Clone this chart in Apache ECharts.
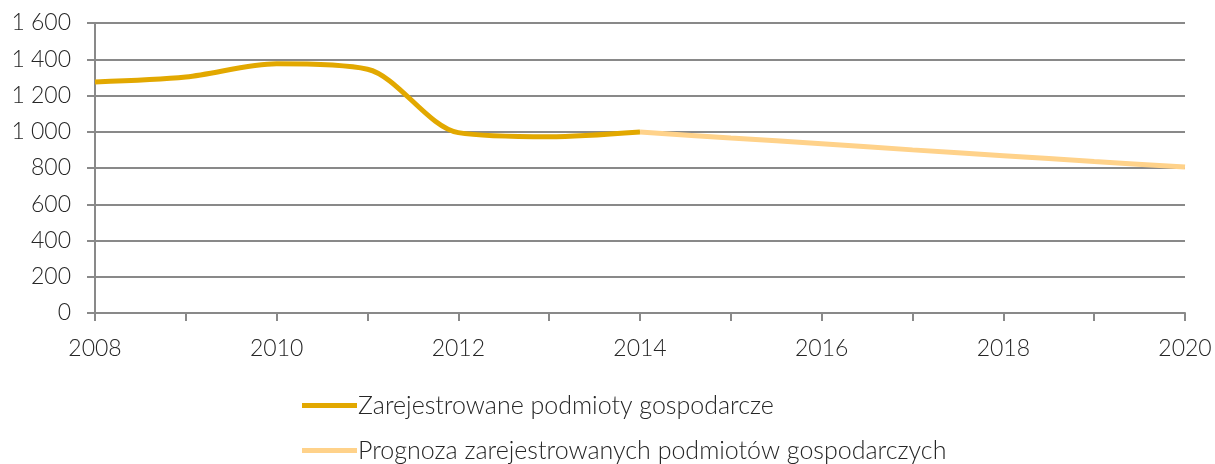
<!DOCTYPE html>
<html>
<head>
<meta charset="utf-8">
<script src="https://cdn.jsdelivr.net/npm/echarts@6/dist/echarts.min.js"></script>
<style>
html, body { margin: 0; padding: 0; background: #fff; }
#chart { width: 1215px; height: 464px; }
</style>
</head>
<body>
<div id="chart"></div>
<script>
// lata
const years = ['2008', '2009', '2010', '2011', '2012', '2013', '2014', '2015', '2016', '2017', '2018', '2019', '2020']
// dane rzeczywiste
const registered = [1275, 1302, 1375, 1345, 995, 972, 998, null, null, null, null, null, null]
// prognoza
const forecast = [null, null, null, null, null, null, 998, 966, 934, 900, 868, 836, 805]

const seriesNames = ['Zarejestrowane podmioty gospodarcze', 'Prognoza zarejestrowanych podmiotów gospodarczych']

const font = 'Lato'
const textColor = '#262626'
const gridColor = '#898989'

const legendBase = {
    orient: 'vertical',
    left: 297,
    itemWidth: 55,
    itemHeight: 5,
    icon: 'rect',
    textStyle: {
        fontFamily: font,
        fontSize: 25,
        fontWeight: 300,
        color: textColor,
        padding: [0, 0, 0, -4]
    }
}

const chart = echarts.init(document.getElementById('chart'))

chart.setOption({
    animation: false,
    grid: {
        left: 95,
        right: 30,
        top: 23,
        bottom: 151
    },
    legend: [
        Object.assign({}, legendBase, { top: 388, data: [seriesNames[0]] }),
        Object.assign({}, legendBase, { top: 433, data: [seriesNames[1]] })
    ],
    xAxis: {
        type: 'category',
        boundaryGap: false,
        data: years,
        axisLine: { lineStyle: { color: gridColor, width: 2 } },
        axisTick: { interval: 0, length: 8, lineStyle: { color: gridColor, width: 2 } },
        axisLabel: {
            interval: 1,
            margin: 24,
            fontFamily: font,
            fontSize: 23,
            fontWeight: 300,
            color: textColor
        }
    },
    yAxis: {
        type: 'value',
        min: 0,
        max: 1600,
        interval: 200,
        axisLine: { show: true, lineStyle: { color: gridColor, width: 2 } },
        axisTick: { show: true, length: 8, lineStyle: { color: gridColor, width: 2 } },
        splitLine: { lineStyle: { color: gridColor, width: 2 } },
        axisLabel: {
            margin: 24,
            fontFamily: font,
            fontSize: 23,
            fontWeight: 300,
            color: textColor,
            formatter: v => String(v).replace(/\B(?=(\d{3})+(?!\d))/g, ' ')
        }
    },
    series: [
        {
            name: seriesNames[0],
            type: 'line',
            data: registered,
            smooth: 0.3,
            showSymbol: false,
            itemStyle: { color: '#E2A800' },
            lineStyle: { width: 5, color: '#E2A800' }
        },
        {
            name: seriesNames[1],
            type: 'line',
            data: forecast,
            smooth: 0.3,
            showSymbol: false,
            itemStyle: { color: '#FFD28A' },
            lineStyle: { width: 5, color: '#FFD28A' }
        }
    ]
})
</script>
</body>
</html>
